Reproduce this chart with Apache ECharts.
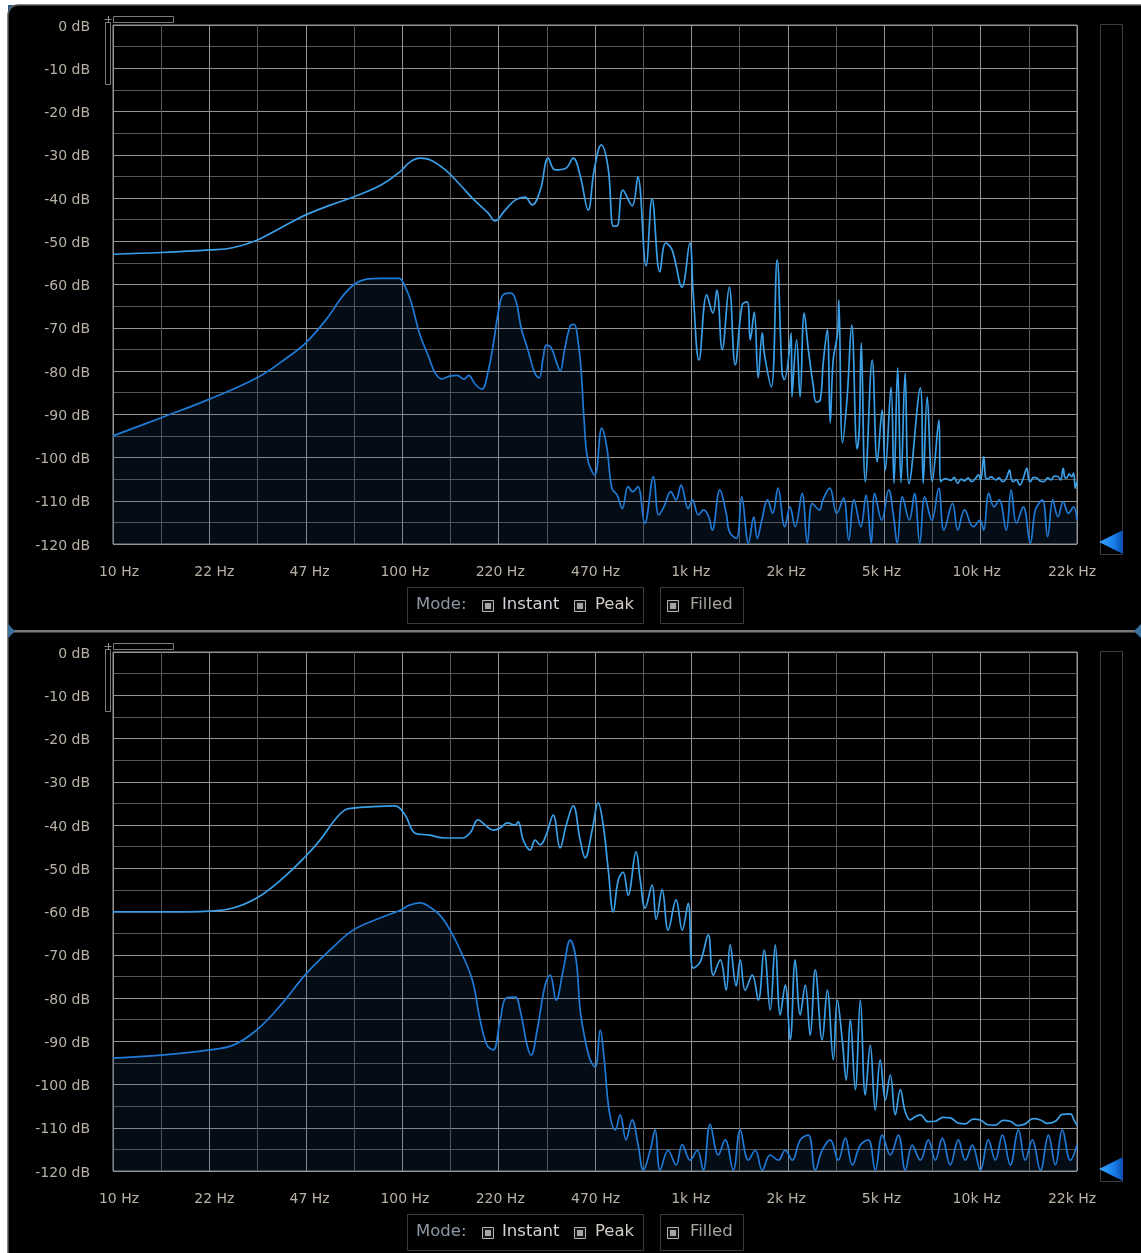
<!DOCTYPE html>
<html>
<head>
<meta charset="utf-8">
<script src="https://cdn.jsdelivr.net/npm/echarts/dist/echarts.min.js"></script>
<style>
  html, body { margin: 0; padding: 0; background: #ffffff; }
  #chart { width: 1141px; height: 1253px; }
</style>
</head>
<body>
<div id="chart"></div>
<script>
// Frequency tick labels (one per major vertical grid line) and level range
const freqLabels = ['10 Hz', '22 Hz', '47 Hz', '100 Hz', '220 Hz', '470 Hz', '1k Hz', '2k Hz', '5k Hz', '10k Hz', '22k Hz'];
const freqMin = 10;
const freqMax = 22000;
const levelMin = -120;
const levelMax = 0;

// Upper analyser: [frequency Hz, level dB]
const topPeak = [
  [10, -53], [14.7, -52.6], [21.6, -52], [26, -51.5], [31.7, -49.7], [38.4, -46.8], [46.6, -43.9], [57, -41.6],
  [68.5, -39.7], [85, -37], [99, -33.9], [107, -31.7], [116, -30.8], [126, -31.2], [142, -33.5], [160, -37],
  [179, -40.5], [200, -43.5], [211, -45.3], [229, -42.8], [248, -40.5], [268, -39.8], [284, -41.6], [303, -38.2],
  [323, -30.8], [341, -33.5], [372, -33.1], [394, -30.8], [417, -34.9], [444, -42.8], [466, -33.5], [493, -27.7],
  [521, -33.1], [543, -46.5], [559, -46.5], [586, -38.2], [631, -41.8], [660, -35.1], [705, -55.7], [740, -40.2],
  [787, -57.1], [825, -50.4], [868, -52], [939, -60.6], [1000, -50.4], [1027, -62], [1076, -77.5], [1145, -62.4],
  [1202, -66.6], [1241, -61.3], [1295, -75.1], [1370, -60.6], [1437, -78.6], [1519, -64.7], [1581, -64], [1620, -72.8],
  [1673, -66.4], [1726, -81.6], [1783, -71.2], [1811, -75.8], [1916, -83.7], [2008, -54.3], [2089, -80.5], [2127, -82],
  [2247, -71.2], [2260, -86], [2345, -72.8], [2411, -86], [2492, -66.6], [2576, -75.1], [2683, -83.7], [2742, -87.2],
  [2832, -86.7], [2900, -78.2], [2996, -70.5], [3067, -92], [3141, -77.5], [3254, -71.2], [3286, -63.6], [3383, -96.6],
  [3512, -86], [3641, -69.4], [3802, -98], [3866, -93.6], [3931, -73.5], [4060, -105.6], [4290, -77.5], [4465, -101],
  [4645, -89], [4759, -103], [4986, -83.7], [5104, -106], [5256, -79.3], [5398, -105.8], [5578, -80.5], [5758, -106],
  [6297, -83.9], [6443, -106], [6652, -86], [6930, -105.5], [7306, -91.3],
  [7395, -105.6], [7700, -104.9], [8035, -105.3], [8250, -104.6], [8490, -106], [8720, -105], [8970, -105.4],
  [9220, -104.7], [9480, -105.6], [9750, -105], [10010, -104], [10200, -105.3], [10440, -99.8], [10600, -104.6],
  [10730, -105], [11100, -104.5], [11500, -105.2], [11800, -104.7], [12160, -105.6], [12500, -104.9], [12830, -102.9],
  [13000, -104.8], [13200, -105.6], [13550, -105.1], [13930, -106.4], [14300, -105], [14740, -102.5], [14950, -104.9],
  [15150, -105.6], [15550, -104.6], [15990, -104.8], [16450, -105.5], [16900, -105.6], [17400, -104.7], [17870, -105.2],
  [18350, -104.3], [18900, -104.4], [19300, -105.2], [19700, -102.5], [19950, -104.5], [20250, -104.8], [20650, -103.8],
  [21090, -104.4], [21400, -103.6], [21710, -107.1], [22000, -105.6]
];

const topInstant = [
  [10, -95], [14.7, -90.8], [21.6, -86.5], [31.7, -81.5], [40, -77], [46.6, -73.5], [55, -68], [62, -63],
  [68.5, -60], [75, -58.8], [85, -58.6], [98, -58.6], [103, -60.5], [108, -64], [116, -71.7], [124, -76.5],
  [131, -80.5], [138, -81.8], [147, -81.2], [156, -81], [165, -81.9], [171, -81], [180, -83], [190, -84.2],
  [200, -80], [208, -74], [218, -65.5], [226, -62.3], [240, -62], [250, -64], [260, -70], [275, -75.3],
  [290, -80.5], [300, -81.6], [310, -77], [318, -74], [330, -74.5], [345, -78], [355, -80], [368, -75],
  [385, -69.6], [397, -69.2], [410, -73.3], [420, -80], [430, -91.3], [443, -100.6], [468, -104], [495, -93.2],
  [515, -97.5], [537, -107.1], [560, -108.7], [583, -111.8], [611, -106.7], [634, -107.9], [660, -106.7], [698, -115.2],
  [748, -104.4], [780, -113.3], [813, -111.4], [859, -107.9], [895, -109.8], [933, -106.4], [987, -111.8], [1021, -109.8],
  [1071, -113.3], [1116, -112.1], [1163, -113.7], [1196, -116.8], [1271, -107.5], [1337, -112.9], [1373, -117.2], [1450, -118.7],
  [1513, -109.1], [1598, -119.8], [1666, -113.7], [1713, -118.7], [1776, -114.5], [1859, -109.8], [1938, -112.9], [2021, -107.1],
  [2135, -116], [2225, -111.4], [2319, -116], [2451, -108.3], [2556, -119.8], [2661, -110.6], [2816, -112.1], [2893, -109.8],
  [3058, -107.1], [3230, -112.9], [3412, -109.4], [3557, -119.1], [3708, -109.8], [3916, -116], [4082, -108.7], [4257, -119.8],
  [4375, -108.3], [4626, -114.5], [4891, -107.5], [5090, -113.7], [5237, -119.8], [5460, -109.1], [5768, -114.5], [6012, -108.3],
  [6269, -119.8], [6527, -109.1], [6902, -114.5], [7292, -107.1], [7605, -116.8], [8148, -110.6], [8489, -116.8], [8968, -112.1],
  [9612, -116], [10150, -114.5], [10440, -116.8], [10880, -108.3], [11340, -111.4], [11820, -109.8], [12500, -116.8], [13010, -107.5],
  [13570, -115.2], [14330, -111.4], [15160, -119.8], [15790, -112.1], [16680, -109.8], [17400, -118.3], [18140, -109.8], [18900, -113.7],
  [19700, -110.2], [20540, -112.9], [21400, -111.4], [22000, -114.5]
];

// Lower analyser: [frequency Hz, level dB]
const bottomPeak = [
  [10, -60.1], [14.7, -60.1], [21.6, -59.9], [26.1, -59.2], [31.5, -56.9], [38.2, -52.7], [46.3, -47.4], [52.2, -43.5],
  [58.8, -38.8], [63.7, -36.5], [68, -36.1], [77.9, -35.8], [95, -35.6], [103, -37.7], [111.6, -41.9], [123.8, -42.3],
  [141.8, -43], [162.4, -43], [173.2, -41.8], [184.4, -38.8], [195.1, -40], [208, -41.2], [220, -40.7], [232.7, -39.5],
  [248, -40], [254, -39.3], [264.5, -43.5], [279.4, -45.8], [291, -43.5], [302.8, -44.6], [317.7, -42.3], [336, -37.7],
  [355, -45.3], [372.8, -40], [394, -35.6], [416.7, -43.5], [433.6, -47.6], [458.5, -41.2], [481, -34.9], [500.8, -40],
  [521.5, -50.4], [542.6, -60.1], [564.7, -52.7], [587, -50.9], [611, -56.2], [651, -46.2], [673, -52.7], [700, -59.2],
  [740, -53.9], [764.5, -61.8], [802, -55], [841, -64.3], [896, -57.3], [941, -64.3], [987, -58.1], [1027, -73.1],
  [1086, -71.7], [1158, -65.4], [1206, -74.7], [1275, -71.2], [1337, -78.2], [1380, -67.7], [1448, -77.2], [1496, -71.2],
  [1556, -78.2], [1646, -74.7], [1728, -80.5], [1810, -68.9], [1900, -82.8], [1978, -67.7], [2058, -83.9], [2142, -77],
  [2229, -89.7], [2319, -71.2], [2415, -83.9], [2513, -77], [2615, -88.6], [2722, -73.5], [2877, -89.7], [2997, -78.2],
  [3144, -94.3], [3245, -80.5], [3377, -89.7], [3486, -99], [3601, -85], [3748, -101.2], [3902, -80.5], [4058, -102.4],
  [4224, -90.9], [4395, -105.9], [4574, -94.3], [4762, -103.6], [4956, -97.8], [5158, -107], [5368, -101.2], [5587, -106.4],
  [5812, -108.2], [6050, -107.4], [6297, -107], [6700, -108.6], [7098, -108.5], [7550, -107.6], [8000, -107.7], [8500, -108.9],
  [9017, -109.1], [9600, -108], [10170, -108.2], [10800, -109.3], [11460, -109.4], [12200, -108.3], [12920, -108.5], [13700, -109.5],
  [14560, -109.1], [15500, -107.9], [16430, -108.2], [17400, -109], [18510, -108.5], [19600, -106.9], [20870, -106.8], [21500, -108.3],
  [22000, -109.4]
];

const bottomInstant = [
  [10, -93.9], [14.7, -93.2], [21.6, -92], [26.1, -90.9], [31.5, -87.4], [38.2, -81.6], [46.3, -74.7], [56.6, -68.9],
  [68, -64.3], [84.3, -61.5], [99, -59.7], [107, -58.5], [116, -58], [125.7, -59], [136.2, -60.9], [147.5, -64.3],
  [159.8, -68.9], [176, -75.8], [187.5, -85.1], [198, -90.9], [208, -92], [220, -85.1], [230.8, -80], [248, -79.8],
  [258, -82.8], [272.7, -90.9], [281.7, -93.2], [295.6, -87.4], [315, -77], [328, -74.7], [344, -80.5], [363.9, -73.5],
  [385, -66.6], [403.4, -71.2], [416.7, -82.8], [433.6, -89.7], [451.4, -94.3], [469.8, -96], [489, -87.4], [505, -94.3],
  [525, -105.9], [551.6, -110.5], [573.7, -107], [601, -112.8], [630.7, -108.2], [661.7, -113.9], [690, -119.8], [728.6, -115.2],
  [758, -110.5], [789, -119.8], [841, -115.2], [896, -118.6], [941, -113.9], [1003, -117.5], [1061, -115.2], [1113, -119.8],
  [1176, -109.2], [1255, -116.3], [1326, -112.8], [1414, -119.8], [1496, -110.5], [1595, -117.5], [1686, -115.2], [1783, -119.8],
  [1900, -116.3], [2025, -117.5], [2142, -115.2], [2265, -117.5], [2415, -112.8], [2575, -111.7], [2722, -119.8], [2877, -115.2],
  [3068, -112.8], [3271, -117.5], [3461, -112.4], [3661, -118.6], [3902, -114], [4157, -112.8], [4395, -119.8], [4650, -111.7],
  [4956, -116.3], [5284, -111.7], [5587, -119.8], [5906, -114], [6297, -117.5], [6715, -112.8], [7098, -117.5], [7508, -112.4],
  [8000, -118.6], [8531, -112.8], [9017, -117.5], [9541, -114], [10170, -119.8], [10840, -112.8], [11460, -117.5], [12130, -111.7],
  [12920, -118.6], [13780, -110.5], [14560, -117.5], [15400, -112.8], [16430, -119.8], [17510, -111.7], [18510, -118.6], [19570, -110.5],
  [20870, -117.5], [22000, -114]
];

// Control strip texts under each analyser
const modeTitle = 'Mode:';
const modeOptions = ['Instant', 'Peak'];
const fillOption = 'Filled';

const FONT = '"DejaVu Sans", Verdana, sans-serif';
const AXIS_TXT = '#b8b1a6';
const GRID_MAJOR = '#959595';
const GRID_MINOR = '#585858';
const PEAK_COLOR = '#3a9fe6';
const INSTANT_COLOR = '#1f7ad6';
const FILL_COLOR = 'rgba(22, 72, 125, 0.24)';

const PLOT_LEFT = 113, PLOT_W = 964, PLOT_H = 519;
const PANEL_TOPS = [25, 652];

const chart = echarts.init(document.getElementById('chart'), null, { renderer: 'canvas' });

// per-label horizontal nudge so each frequency label sits where the analyser prints it
const labelShift = freqLabels.map((_, k) => 6 - 1.1 * k);
const freqRich = {};
labelShift.forEach((s, k) => {
  freqRich['p' + k] = {
    fontFamily: FONT, fontSize: 14, color: AXIS_TXT,
    padding: s >= 0 ? [0, 0, 0, 2 * s] : [0, -2 * s, 0, 0]
  };
});
// level labels sit a touch below their grid line
const levelRich = { d: { fontFamily: FONT, fontSize: 14, color: AXIS_TXT, padding: [4, 0, 0, 0] } };

const grids = [], xAxes = [], yAxes = [], series = [];
PANEL_TOPS.forEach((top, p) => {
  grids.push({
    left: PLOT_LEFT, top: top, width: PLOT_W, height: PLOT_H,
    show: true, borderColor: '#979797', borderWidth: 1, backgroundColor: 'transparent',
    outerBoundsMode: 'none', containLabel: false
  });
  // log frequency scale that carries the spectra
  xAxes.push({
    gridIndex: p, type: 'log', logBase: 10, min: freqMin, max: freqMax,
    position: 'top', show: false
  });
  // evenly divided scale for the grid lines and frequency labels
  xAxes.push({
    gridIndex: p, type: 'value', min: 0, max: 20, interval: 1, position: 'bottom',
    axisLine: { show: false }, axisTick: { show: false },
    splitLine: { show: true, lineStyle: { color: [GRID_MAJOR, GRID_MINOR], width: 1 } },
    axisLabel: {
      show: true, margin: 21, rich: freqRich,
      formatter: v => {
        const i = Math.round(v);
        return (i % 2 === 0 && freqLabels[i / 2]) ? '{p' + (i / 2) + '|' + freqLabels[i / 2] + '}' : '';
      }
    }
  });
  yAxes.push({
    gridIndex: p, type: 'value', min: levelMin, max: levelMax, interval: 5,
    axisLine: { show: false }, axisTick: { show: false },
    splitLine: { show: true, lineStyle: { color: [GRID_MAJOR, GRID_MINOR], width: 1 } },
    axisLabel: {
      margin: 23, rich: levelRich,
      formatter: v => (Math.round(v) % 10 === 0 ? '{d|' + Math.round(v) + ' dB}' : '')
    }
  });
});

function spectrum(data, p, color, filled) {
  return {
    type: 'line', xAxisIndex: p * 2, yAxisIndex: p, data: data,
    symbol: 'none', showSymbol: false, smooth: 0.4, clip: true, silent: true,
    lineStyle: { color: color, width: 1.7 },
    areaStyle: filled ? { color: FILL_COLOR, origin: 'start' } : undefined,
    z: filled ? 2 : 3
  };
}
series.push(spectrum(topInstant, 0, INSTANT_COLOR, true));
series.push(spectrum(topPeak, 0, PEAK_COLOR, false));
series.push(spectrum(bottomInstant, 1, INSTANT_COLOR, true));
series.push(spectrum(bottomPeak, 1, PEAK_COLOR, false));

// panel chrome: frame, divider, range widgets, level slider and control strip
function checkbox(x, y) {
  return [
    { type: 'rect', shape: { x: x + 0.5, y: y + 0.5, width: 11, height: 11 }, style: { fill: '#151515', stroke: '#b4b4b4', lineWidth: 1 }, z: 20 },
    { type: 'rect', shape: { x: x + 3, y: y + 3, width: 6, height: 6 }, style: { fill: '#a4a4a4' }, z: 21 }
  ];
}
function text(str, x, y, color) {
  return { type: 'text', x: x, y: y, style: { text: str, fill: color, font: '16.5px ' + FONT, textVerticalAlign: 'middle', verticalAlign: 'middle' }, z: 20 };
}
function panelChrome(dy) {
  const els = [];
  const mid = 605 + dy;
  // range widget at the top-left corner of the plot
  els.push({ type: 'rect', shape: { x: 113.5, y: 16.5 + dy, width: 60, height: 6 }, style: { fill: 'none', stroke: '#7c7c7c', lineWidth: 1 }, z: 20 });
  els.push({ type: 'rect', shape: { x: 105.5, y: 22.5 + dy, width: 5, height: 62 }, style: { fill: 'none', stroke: '#7c7c7c', lineWidth: 1 }, z: 20 });
  els.push({ type: 'line', shape: { x1: 104.5, y1: 19.5 + dy, x2: 111.5, y2: 19.5 + dy }, style: { stroke: '#8a8a8a', lineWidth: 1 }, z: 20 });
  els.push({ type: 'line', shape: { x1: 108.5, y1: 16 + dy, x2: 108.5, y2: 23 + dy }, style: { stroke: '#8a8a8a', lineWidth: 1 }, z: 20 });
  // level slider
  els.push({ type: 'rect', shape: { x: 1100.5, y: 24.5 + dy, width: 22, height: 530 }, style: { fill: 'none', stroke: '#3e3e3e', lineWidth: 1 }, z: 20 });
  els.push({
    type: 'polygon', shape: { points: [[1099, 542 + dy], [1123, 530 + dy], [1123, 554 + dy]] },
    style: { fill: new echarts.graphic.LinearGradient(0, 0, 1, 0, [{ offset: 0, color: '#3aa6ff' }, { offset: 0.6, color: '#1a80ee' }, { offset: 1, color: '#0a4fb0' }]) }, z: 21
  });
  // control strip
  els.push({ type: 'rect', shape: { x: 407.5, y: 587.5 + dy, width: 236, height: 36 }, style: { fill: 'none', stroke: '#3a3a3a', lineWidth: 1 }, z: 20 });
  els.push({ type: 'rect', shape: { x: 660.5, y: 587.5 + dy, width: 83, height: 36 }, style: { fill: 'none', stroke: '#3a3a3a', lineWidth: 1 }, z: 20 });
  els.push(text(modeTitle, 416, mid, '#8c98a4'));
  els.push(...checkbox(482, mid - 5));
  els.push(text(modeOptions[0], 502, mid, '#d0d4d8'));
  els.push(...checkbox(574, mid - 5));
  els.push(text(modeOptions[1], 595, mid, '#d2cdc6'));
  els.push(...checkbox(667, mid - 5));
  els.push(text(fillOption, 690, mid, '#a9a49e'));
  return els;
}

const graphics = [
  // blue bevel behind the rounded corners
  { type: 'rect', shape: { x: 8, y: 5, width: 14, height: 14 }, style: { fill: '#2f5f88' }, z: -12 },
  { type: 'rect', shape: { x: 1127, y: 5, width: 14, height: 14 }, style: { fill: '#2f5f88' }, z: -12 },
  // panel body
  { type: 'rect', shape: { x: 8, y: 5, width: 1150, height: 1270, r: 10 }, style: { fill: '#000000', stroke: '#5a5a5a', lineWidth: 1.5 }, z: -10 },
  // divider between the two analysers
  { type: 'rect', shape: { x: 8, y: 630, width: 1133, height: 2.5 }, style: { fill: '#7a7a7a' }, z: 15 },
  { type: 'polygon', shape: { points: [[8, 624], [15, 631.3], [8, 638]] }, style: { fill: '#3b6f9c' }, z: 16 },
  { type: 'polygon', shape: { points: [[1141, 624], [1134, 631.3], [1141, 638]] }, style: { fill: '#3b6f9c' }, z: 16 },
  ...panelChrome(0),
  ...panelChrome(627)
];

chart.setOption({
  backgroundColor: '#ffffff',
  animation: false,
  grid: grids,
  xAxis: xAxes,
  yAxis: yAxes,
  series: series,
  graphic: { elements: graphics }
});
</script>
</body>
</html>
